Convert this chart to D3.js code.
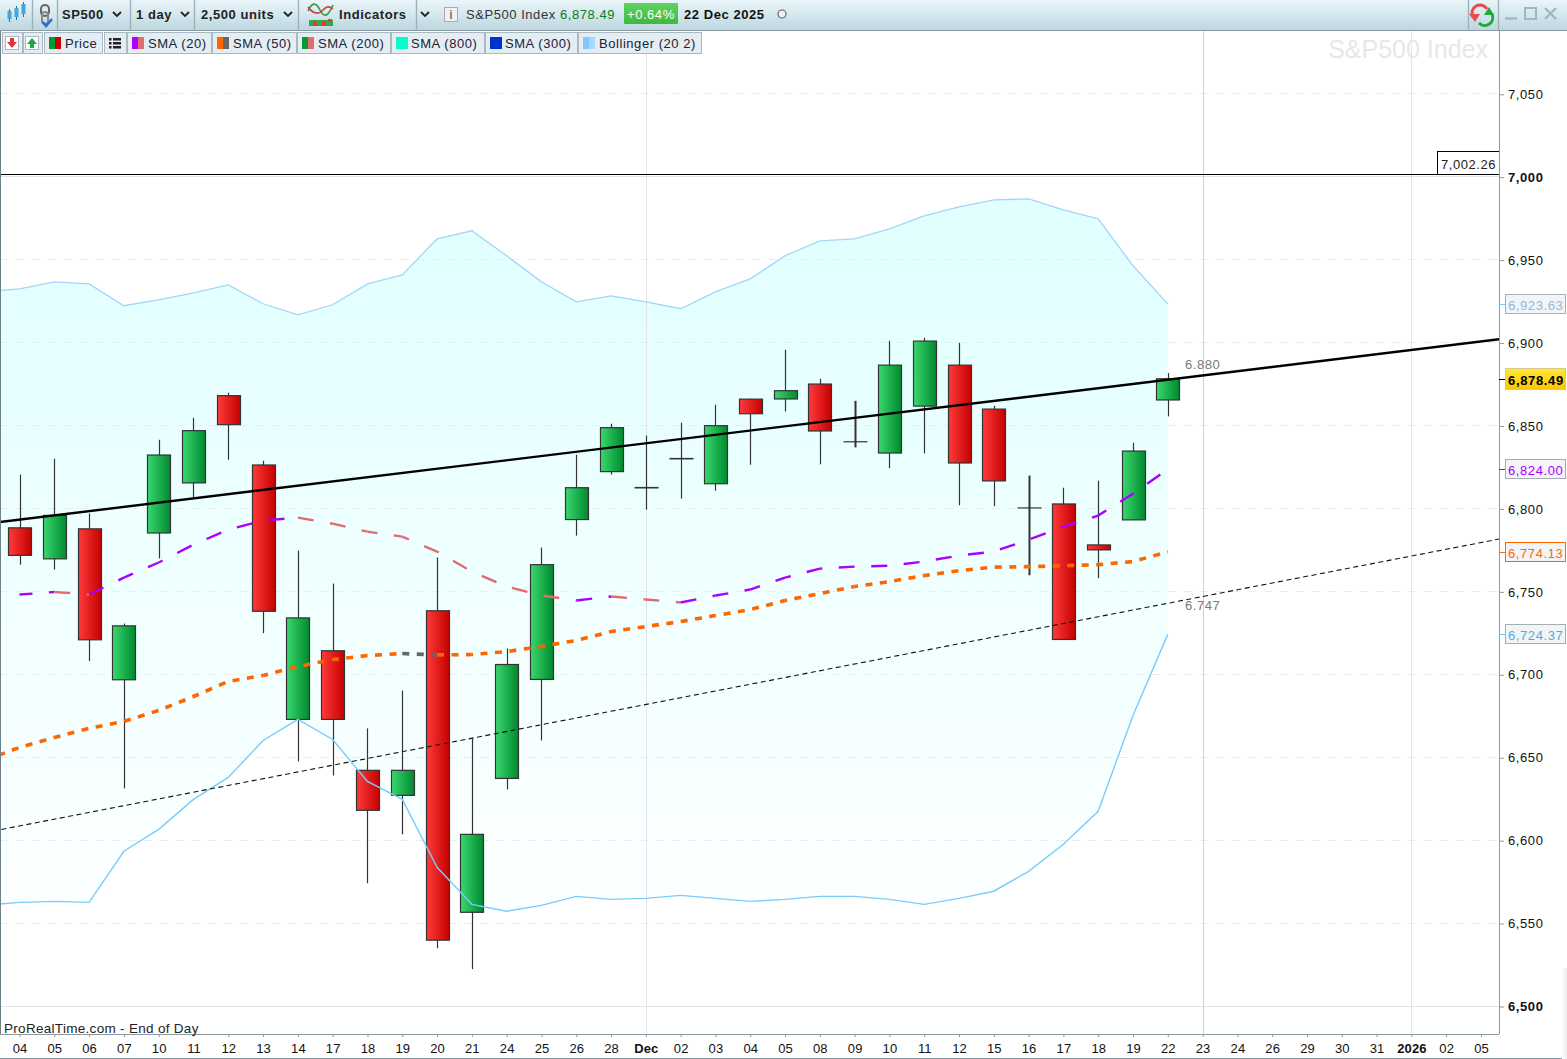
<!DOCTYPE html>
<html lang="en">
<head>
<meta charset="UTF-8">
<title>S&amp;P500 Index daily</title>
<script src="https://d3js.org/d3.v7.min.js"></script>
<style>
    html, body { margin: 0; padding: 0; background: #fff; overflow: hidden; }
    svg { display: block; font-family: "Liberation Sans", Arial, sans-serif; }
    .price-tick { font-size: 13px; letter-spacing: 0.6px; fill: #111; }
    .date-tick { font-size: 13px; letter-spacing: 0.1px; fill: #111; }
    .bar-text { font-size: 13px; letter-spacing: 0.55px; fill: #222; }
</style>
</head>
<body>
<svg id="chart" width="1567" height="1059"></svg>
<script>
// date labels along the bottom, candles run from index 0 to 33
const dateLabels = ["04","05","06","07","10","11","12","13","14","17","18","19","20","21","24","25","26","28","Dec",
    "02","03","04","05","08","09","10","11","12","15","16","17","18","19","22","23","24","26","29","30","31","2026","02","05"];

const opens = [6788.6,6769.9,6788,6697,6785.5,6815.7,6868.3,6826.5,6673.1,6714.5,6642.4,6627.3,6738.6,6556.8,6637.5,6697.2,6793.6,6822.5,
    6812.8,6830.3,6815.2,6866.2,6866.3,6875.3,6840.5,6833.7,6862,6886.7,6860.2,6800.6,6803,6778.3,6793.4,6865.7];
const closes = [6772,6796.1,6721.1,6729.5,6832.5,6847.2,6850.8,6738.3,6734.3,6673.1,6618.3,6642.4,6540,6603.8,6706.2,6766.4,6812.8,6849,
    6812.8,6830.3,6850.2,6857.4,6871.3,6847,6840.5,6886.7,6901.2,6827.7,6816.9,6800.6,6721.3,6775.3,6834.9,6878.49];
const highs = [6820.7,6830.3,6797.2,6730.9,6841.7,6855,6870.1,6829.1,6774.9,6755,6667.7,6690.5,6770.7,6661.6,6715.8,6776.7,6832.7,6851.4,
    6844.2,6852,6862.8,6866.4,6896,6878.5,6865.2,6901.4,6903.2,6900.2,6862.2,6820.1,6812.8,6817,6839.9,6881.9];
const lows = [6766.4,6763.4,6708.2,6631.5,6770.2,6806.8,6829.7,6725.1,6647.8,6639.3,6574.3,6603.8,6535.1,6522.5,6630.9,6660.4,6783.9,6820.7,
    6799.6,6806.2,6811,6826.7,6858.8,6826.9,6837.1,6824.5,6833.5,6802.2,6801.6,6760,6721,6758.2,6793.4,6855.8];
const thickWicks = [24, 29];

// these two and sma50 start one bar before the first label (index -1)
const bollUpper = [6930.9,6932.7,6936.9,6935.7,6922.5,6926.1,6930.3,6935.1,6923.7,6917,6923.1,6935.7,6941.1,6962.8,6967.7,6952.6,6936.9,6924.9,6928.5,
    6924.9,6920.7,6930.9,6938.7,6952.6,6961.6,6962.8,6968.9,6976.7,6982.1,6986.3,6986.9,6980.3,6974.9,6946.6,6923.63];
const bollLower = [6561,6562.8,6563.4,6562.8,6593.6,6606.8,6624.9,6638.1,6660.4,6673.1,6661,6635.7,6624.9,6583.9,6561.6,6557.4,6561,6566.4,6564.6,
    6565.2,6567,6565.2,6563.4,6564.6,6566.4,6566.4,6564.6,6561.6,6565.2,6569.5,6581.5,6597.8,6617.7,6675.5,6724.37];
const sma50 = [6648.4,6656.2,6662.2,6667.7,6671.9,6678.5,6686.9,6696,6699.6,6705,6709.2,6711.6,6712.8,6712,6712.2,6714,6717.1,6720.7,6726.1,
    6729.1,6732.1,6735.7,6739.3,6744.8,6749,6753.2,6756.2,6759.8,6762.8,6764.9,6765.2,6765.8,6766.4,6768.3,6774.13];
// sma20 starts at index 0
const sma20 = [6748.4,6749.9,6748.4,6758.6,6767.7,6778.5,6787.5,6793,6794.8,6791.1,6786.3,6783.3,6774.3,6762.2,6753.2,6747.8,6744.8,6747.2,
    6745.4,6743.6,6747.8,6751.4,6758.6,6764,6765.2,6765.8,6768.3,6771.9,6774.3,6781.5,6789.3,6796,6809.2,6824];

// trend lines as [bar index, price] anchors
const trendSolid = [[-1, 6791], [43, 6903.5]];
const trendDashed = [[-1, 6604.8], [43, 6783.8]];
const resistance = 7002.26;

const priceTicks = [7050,7000,6950,6900,6850,6800,6750,6700,6650,6600,6550,6500];
const boldTicks = [7000, 6500];
const verticalGrid = [18, 34, 40];

const legendItems = [
    {name: "Price", left: 44, right: 102, text: 65, colors: ["#009933", "#cc0000"]},
    {name: "SMA (20)", left: 127, right: 211, text: 148, colors: ["#aa00ff", "#e06b70"]},
    {name: "SMA (50)", left: 212, right: 296, text: 233, colors: ["#ff6600", "#666666"]},
    {name: "SMA (200)", left: 297, right: 390, text: 318, colors: ["#009933", "#e06b70"]},
    {name: "SMA (800)", left: 391, right: 484, text: 411, colors: ["#00ffcc", "#00ffcc"]},
    {name: "SMA (300)", left: 485, right: 577, text: 505, colors: ["#0033cc", "#0033cc"]},
    {name: "Bollinger (20 2)", left: 578, right: 701, text: 599, colors: ["#80c8ff", "#a8d8ff"]}
];

const plotRight = 1499, axisTop = 31, axisBottom = 1034;
const x = d3.scaleLinear().domain([0, 33]).range([19.5, 1167.8]);
const y = d3.scaleLinear().domain([6500, 7050]).range([1006.5, 94.3]);
const bodyWidth = 23;

const svg = d3.select("#chart");
const defs = svg.append("defs");

function gradient(id, stops, horizontal) {
    const g = defs.append("linearGradient").attr("id", id)
        .attr("x1", 0).attr("y1", 0)
        .attr("x2", horizontal ? 1 : 0).attr("y2", horizontal ? 0 : 1);
    stops.forEach((c, i) => g.append("stop").attr("offset", i / (stops.length - 1)).attr("stop-color", c));
}
gradient("upBody", ["#3ad86f", "#00882e"], true);
gradient("downBody", ["#ff3a3a", "#c40000"], true);
gradient("bollFill", ["#e0ffff", "#fdffff"], false);
gradient("topBar", ["#eaf5f9", "#d3e7ee", "#bdd6df"], false);
gradient("goldBox", ["#ffe83a", "#fcc400"], false);
gradient("greenBadge", ["#5fd35f", "#3fb83f"], false);
gradient("cornerShade", ["#ffffff", "#d8d8d8"], true);

defs.append("clipPath").attr("id", "plotClip").append("rect")
    .attr("x", 0).attr("y", axisTop).attr("width", plotRight).attr("height", axisBottom - axisTop);

const plot = svg.append("g").attr("clip-path", "url(#plotClip)");

// watermark
plot.append("text").attr("x", 1488).attr("y", 58).attr("text-anchor", "end")
    .attr("font-size", 25).attr("fill", "#e6e7ec").text("S&P500 Index");

// bollinger fill
const bandIdx = bollUpper.map((d, i) => i - 1);
plot.append("path").datum(bandIdx)
    .attr("fill", "url(#bollFill)")
    .attr("d", d3.area().x(i => x(i)).y0(i => y(bollLower[i + 1])).y1(i => y(bollUpper[i + 1])));

// grid
plot.selectAll(".hgrid").data(priceTicks).enter().append("line")
    .attr("x1", 0).attr("x2", plotRight)
    .attr("y1", d => Math.round(y(d)) - 0.5).attr("y2", d => Math.round(y(d)) - 0.5)
    .attr("stroke", d => boldTicks.includes(d) ? "#e2e3ea" : "#eaeef0")
    .attr("stroke-dasharray", d => boldTicks.includes(d) ? null : "9,7");
plot.selectAll(".vgrid").data(verticalGrid).enter().append("line")
    .attr("y1", axisTop).attr("y2", axisBottom)
    .attr("x1", d => Math.round(x(d)) + 0.5).attr("x2", d => Math.round(x(d)) + 0.5)
    .attr("stroke", d => d === 34 ? "#cfd0d4" : "#e4e5ea");

// candles
const candles = plot.selectAll(".candle").data(opens).enter().append("g").attr("class", "candle");
candles.append("line")
    .attr("x1", (d, i) => Math.round(x(i)) + 0.5).attr("x2", (d, i) => Math.round(x(i)) + 0.5)
    .attr("y1", (d, i) => y(highs[i])).attr("y2", (d, i) => y(lows[i]))
    .attr("stroke", "#333")
    .attr("stroke-width", (d, i) => thickWicks.includes(i) ? 2 : 1.2);
candles.each(function(d, i) {
    const top = y(Math.max(opens[i], closes[i])), bottom = y(Math.min(opens[i], closes[i]));
    const left = Math.round(x(i) - bodyWidth / 2) + 0.5;
    if (opens[i] === closes[i]) {
        d3.select(this).append("line").attr("x1", left).attr("x2", left + bodyWidth + 1)
            .attr("y1", top).attr("y2", top)
            .attr("stroke", "#333").attr("stroke-width", thickWicks.includes(i) ? 1.2 : 1.6);
        return;
    }
    d3.select(this).append("rect")
        .attr("x", left).attr("y", top).attr("width", bodyWidth).attr("height", bottom - top)
        .attr("fill", closes[i] > opens[i] ? "url(#upBody)" : "url(#downBody)")
        .attr("stroke", "#333").attr("stroke-width", 1.2);
});

// bollinger lines sit on top of the candles
plot.append("path").datum(bandIdx)
    .attr("fill", "none").attr("stroke", "#a2d6f7").attr("stroke-width", 1.3)
    .attr("d", d3.line().x(i => x(i)).y(i => y(bollUpper[i + 1])));
plot.append("path").datum(bandIdx)
    .attr("fill", "none").attr("stroke", "#78cdfb").attr("stroke-width", 1.4)
    .attr("d", d3.line().x(i => x(i)).y(i => y(bollLower[i + 1])));

// moving averages, colour follows slope, dash pattern restarts where colour changes
function drawSma(values, startIdx, upColor, downColor, dash, width, phase) {
    let run = phase;
    let last = null;
    for (let k = 0; k < values.length - 1; k++) {
        const x1 = x(k + startIdx), x2 = x(k + startIdx + 1), y1 = y(values[k]), y2 = y(values[k + 1]);
        const color = values[k + 1] >= values[k] ? upColor : downColor;
        if (last && last !== color) run = 0;
        plot.append("line")
            .attr("x1", x1).attr("y1", y1).attr("x2", x2).attr("y2", y2)
            .attr("stroke", color)
            .attr("stroke-width", width)
            .attr("stroke-dasharray", dash)
            .attr("stroke-dashoffset", run);
        run += Math.hypot(x2 - x1, y2 - y1);
        last = color;
    }
}
drawSma(sma20, 0, "#aa00ff", "#e06b70", "16,16.5", 2.4, 3);
drawSma(sma50, -1, "#ff6600", "#666666", "7,7.5", 3.6, 0);

// trend lines
const trendLine = d3.line().x(d => x(d[0])).y(d => y(d[1]));
plot.append("path").datum(trendSolid).attr("d", trendLine)
    .attr("stroke", "#000").attr("stroke-width", 2.4).attr("fill", "none");
plot.append("path").datum(trendDashed).attr("d", trendLine)
    .attr("stroke", "#111").attr("stroke-width", 1.1).attr("stroke-dasharray", "5,3.5").attr("fill", "none");
plot.append("text").attr("x", x(34)).attr("y", y(6880) - 7).attr("text-anchor", "middle")
    .attr("class", "bar-text").style("fill", "#7a7a7a").text("6.880");
plot.append("text").attr("x", x(34)).attr("y", y(6747) + 13).attr("text-anchor", "middle")
    .attr("class", "bar-text").style("fill", "#7a7a7a").text("6.747");

// resistance line and its box
const resY = Math.round(y(resistance)) + 1.5;
svg.append("line").attr("x1", 0).attr("x2", plotRight).attr("y1", resY).attr("y2", resY).attr("stroke", "#000");
svg.append("rect").attr("x", 1437.5).attr("y", resY - 23).attr("width", 62).attr("height", 23)
    .attr("fill", "#fff").attr("stroke", "#000");
svg.append("text").attr("x", 1441).attr("y", resY - 6).attr("class", "bar-text").text("7,002.26");

// frame of the plot
svg.append("line").attr("x1", 0.5).attr("x2", 0.5).attr("y1", axisTop).attr("y2", axisBottom).attr("stroke", "#6d7f88");

// price axis
const yAxis = svg.append("g").attr("transform", `translate(${plotRight},0)`)
    .call(d3.axisRight(y).tickValues(priceTicks).tickSize(5).tickPadding(4).tickFormat(d3.format(",")));
yAxis.select(".domain").remove();
yAxis.selectAll("line").attr("stroke", "#8a9aa3");
yAxis.selectAll("text").attr("class", "price-tick")
    .style("font-weight", d => boldTicks.includes(d) ? "bold" : null);
svg.append("line").attr("x1", plotRight + 0.5).attr("x2", plotRight + 0.5).attr("y1", axisTop).attr("y2", axisBottom)
    .attr("stroke", "#8a9aa3").attr("stroke-width", 1);

// value boxes on the price axis
const valueBoxes = [
    {value: 6923.63, color: "#84bde8", border: "#a3afb6", tick: "#84c8f5"},
    {value: 6824.00, color: "#aa00ff", border: "#a3afb6", tick: "#aa00ff"},
    {value: 6774.13, color: "#ff6600", border: "#ff6600", tick: "#ff6600"},
    {value: 6724.37, color: "#4aaee8", border: "#a3afb6", tick: "#6cc4f2"}
];
valueBoxes.forEach(b => {
    const cy = Math.round(y(b.value)) + 0.5;
    svg.append("line").attr("x1", plotRight).attr("x2", 1505).attr("y1", cy).attr("y2", cy).attr("stroke", b.tick);
    svg.append("rect").attr("x", 1505.5).attr("y", cy - 10).attr("width", 60).attr("height", 19)
        .attr("fill", "#f3f4f5").attr("stroke", b.border);
    svg.append("text").attr("x", 1508).attr("y", cy + 5).attr("class", "price-tick").style("fill", b.color)
        .text(d3.format(",.2f")(b.value));
});
const lastY = Math.round(y(closes[33])) + 0.5;
svg.append("line").attr("x1", plotRight).attr("x2", 1505).attr("y1", lastY).attr("y2", lastY).attr("stroke", "#000");
svg.append("rect").attr("x", 1505.5).attr("y", lastY - 11).attr("width", 60).attr("height", 21)
    .attr("fill", "url(#goldBox)").attr("stroke", "#d8c88a");
svg.append("text").attr("x", 1508).attr("y", lastY + 5).attr("class", "price-tick")
    .style("font-weight", "bold").style("letter-spacing", "0.65px").style("fill", "#000")
    .text(d3.format(",.2f")(closes[33]));

// date axis
const xAxis = svg.append("g").attr("transform", `translate(0,${axisBottom})`)
    .call(d3.axisBottom(x).tickValues(d3.range(dateLabels.length)).tickSize(3).tickPadding(7)
        .tickFormat(i => dateLabels[i]));
xAxis.select(".domain").remove();
xAxis.selectAll("line").attr("stroke", "#8a9aa3");
xAxis.selectAll("text").attr("class", "date-tick")
    .style("font-weight", (i) => (dateLabels[i] === "Dec" || dateLabels[i] === "2026") ? "bold" : null);
svg.append("line").attr("x1", 0).attr("x2", plotRight).attr("y1", axisBottom + 0.5).attr("y2", axisBottom + 0.5).attr("stroke", "#8a9aa3");
svg.append("line").attr("x1", 0).attr("x2", 1567).attr("y1", 1058.5).attr("y2", 1058.5).attr("stroke", "#8a9aa3");
svg.append("text").attr("x", 4).attr("y", 1033).attr("font-size", 13.5).attr("fill", "#222")
    .style("letter-spacing", "0.3px").text("ProRealTime.com - End of Day");

// shaded corner at the right edge
svg.append("rect").attr("x", 1562).attr("y", 968).attr("width", 10).attr("height", 100).attr("rx", 4).attr("fill", "url(#cornerShade)");

// top toolbar
const bar = svg.append("g");
bar.append("rect").attr("width", 1567).attr("height", 30).attr("fill", "url(#topBar)");
bar.append("line").attr("x1", 0).attr("x2", 1567).attr("y1", 30.5).attr("y2", 30.5).attr("stroke", "#8a9aa3");
[32.5, 57.5, 130.5, 194.5, 298.5, 416.5, 1468.5, 1498.5].forEach(sx => {
    bar.append("line").attr("x1", sx).attr("x2", sx).attr("y1", 0).attr("y2", 30).attr("stroke", "#9fb2bb").attr("stroke-width", 1.4);
});

function barText(str, tx, bold, fill) {
    return bar.append("text").attr("x", tx).attr("y", 18.5).attr("class", "bar-text")
        .style("font-weight", bold ? "bold" : null).style("fill", fill || "#222").text(str);
}
function chevron(cx) {
    bar.append("path").attr("d", d3.line()([[cx - 4, 12], [cx, 16], [cx + 4, 12]]))
        .attr("fill", "none").attr("stroke", "#222").attr("stroke-width", 1.8);
}
barText("SP500", 62, true);
barText("1 day", 136, true);
barText("2,500 units", 201, true);
barText("Indicators", 339, true);
[117, 185, 288, 425].forEach(chevron);
barText("S&P500 Index", 466, false, "#333");
barText("6,878.49", 560, true, "#0a7d1e").style("font-weight", "normal");
bar.append("rect").attr("x", 624).attr("y", 3).attr("width", 54).attr("height", 21).attr("rx", 1).attr("fill", "url(#greenBadge)");
barText("+0.64%", 627, false, "#fff");
barText("22 Dec 2025", 684, true, "#111");
bar.append("circle").attr("cx", 782).attr("cy", 14).attr("r", 4).attr("fill", "#eef").attr("stroke", "#666").attr("stroke-width", 1.2);

// toolbar icons
// candle icon
[[9.5, 11, 19], [16.5, 8, 17], [23.5, 4, 14]].forEach(c => {
    bar.append("line").attr("x1", c[0]).attr("x2", c[0]).attr("y1", c[1] - 2).attr("y2", c[2] + 3).attr("stroke", "#2a6f9c");
    bar.append("rect").attr("x", c[0] - 2).attr("y", c[1]).attr("width", 4).attr("height", c[2] - c[1]).attr("fill", "#49a3dc");
});
// link icon
bar.append("rect").attr("x", 41).attr("y", 5).attr("width", 8).attr("height", 11).attr("rx", 4).attr("fill", "none").attr("stroke", "#666").attr("stroke-width", 2);
bar.append("rect").attr("x", 42).attr("y", 12).attr("width", 6).attr("height", 12).attr("rx", 3).attr("fill", "none").attr("stroke", "#888").attr("stroke-width", 2);
bar.append("path").attr("d", "M43 22 L46 26 L52 19").attr("fill", "none").attr("stroke", "#1f6fd0").attr("stroke-width", 2.4);
// indicators icon
bar.append("rect").attr("x", 309).attr("y", 20).attr("width", 24).attr("height", 6).attr("fill", "#35a845");
[[313, 21, 5], [322, 21, 5], [328, 19, 3]].forEach(c => {
    bar.append("rect").attr("x", c[0]).attr("y", c[1]).attr("width", 4).attr("height", c[2]).attr("fill", "#e03a3a");
});
bar.append("path").attr("d", "M308 11 C312 2 316 2 320 10 S328 17 333 5").attr("fill", "none").attr("stroke", "#2f9a44").attr("stroke-width", 1.6);
bar.append("path").attr("d", "M308 7 C312 13 318 15 322 11 S328 5 333 9").attr("fill", "none").attr("stroke", "#d63c3c").attr("stroke-width", 1.6);
// info icon
bar.append("rect").attr("x", 444.5).attr("y", 7.5).attr("width", 13).attr("height", 14).attr("fill", "#f2f2f2").attr("stroke", "#aaa");
bar.append("text").attr("x", 451).attr("y", 19).attr("text-anchor", "middle").attr("font-size", 12).attr("font-weight", "bold").attr("fill", "#777").text("i");
// refresh icon
bar.append("path").attr("d", "M1473 17 A8 8 0 0 1 1487 9").attr("fill", "none").attr("stroke", "#ee4a4a").attr("stroke-width", 3);
bar.append("path").attr("d", "M1469 14 L1480 14 L1475 22 Z").attr("fill", "#ee4a4a");
bar.append("path").attr("d", "M1492 14 A8 8 0 0 1 1479 23").attr("fill", "none").attr("stroke", "#22a83a").attr("stroke-width", 3);
bar.append("path").attr("d", "M1484 15 L1494 15 L1489 7 Z").attr("fill", "#22a83a");
// window buttons
bar.append("line").attr("x1", 1505).attr("x2", 1517).attr("y1", 18.5).attr("y2", 18.5).attr("stroke", "#a7b4bb").attr("stroke-width", 2.4);
bar.append("rect").attr("x", 1525).attr("y", 8).attr("width", 11).attr("height", 11).attr("fill", "none").attr("stroke", "#a7b4bb").attr("stroke-width", 2);
bar.append("path").attr("d", "M1545 8 L1556 19 M1556 8 L1545 19").attr("stroke", "#a7b4bb").attr("stroke-width", 2.4);

// legend row
const legend = svg.append("g");
function legendBox(left, right) {
    legend.append("rect").attr("x", left + 0.5).attr("y", 32.5).attr("width", right - left).attr("height", 21)
        .attr("fill", "#e3edf2").attr("stroke", "#a9bac3");
}
legendBox(2, 22); legendBox(23, 42); legendBox(104, 126);
legendItems.forEach(it => {
    legendBox(it.left, it.right);
    legend.append("rect").attr("x", it.left + 5).attr("y", 37).attr("width", 6).attr("height", 12).attr("fill", it.colors[0]);
    legend.append("rect").attr("x", it.left + 11).attr("y", 37).attr("width", 6).attr("height", 12).attr("fill", it.colors[1]);
    legend.append("text").attr("x", it.text).attr("y", 48).attr("class", "bar-text").style("fill", "#1c2238").text(it.name);
});
legend.append("rect").attr("x", 5.5).attr("y", 36.5).attr("width", 13).attr("height", 13).attr("fill", "#fff").attr("stroke", "#a9bac3");
legend.append("path").attr("d", "M10 38 L14 38 L14 42 L17 42 L12 48 L7 42 L10 42 Z").attr("fill", "#e23232");
legend.append("rect").attr("x", 25.5).attr("y", 36.5).attr("width", 13).attr("height", 13).attr("fill", "#fff").attr("stroke", "#a9bac3");
legend.append("path").attr("d", "M30 48 L34 48 L34 44 L37 44 L32 38 L27 44 L30 44 Z").attr("fill", "#22a83a");
[38, 42, 46].forEach(ly => {
    legend.append("rect").attr("x", 109).attr("y", ly).attr("width", 2.5).attr("height", 2.5).attr("fill", "#222");
    legend.append("rect").attr("x", 113).attr("y", ly).attr("width", 8).attr("height", 2.5).attr("fill", "#222");
});
</script>
</body>
</html>
